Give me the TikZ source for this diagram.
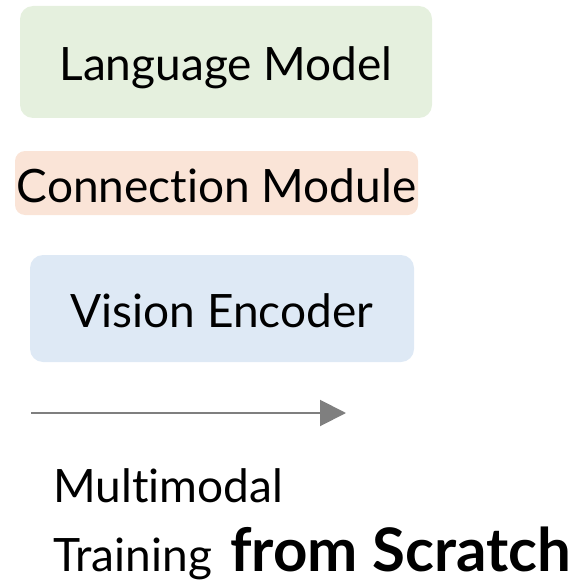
\documentclass[tikz,border=0pt]{standalone}
\usepackage{fontspec}
\setmainfont{Lato}[Ligatures={NoCommon,NoRare,NoContextual}]
\usetikzlibrary{arrows.meta}
\definecolor{lmgreen}{HTML}{E5F0DE}
\definecolor{cmpeach}{HTML}{FAE4D7}
\definecolor{veblue}{HTML}{DEE9F5}
\definecolor{arrgray}{HTML}{7F7F7F}
\tikzset{
  block/.style={rounded corners=13pt, inner sep=0pt, text height=38pt, text depth=0pt,
    font=\fontsize{46}{50}\selectfont},
  plain/.style={inner sep=0pt, anchor=base west, font=\fontsize{46}{50}\selectfont},
}
\begin{document}
\begin{tikzpicture}[x=1pt,y=-1pt]
\useasboundingbox (0,0) rectangle (577,583);
\node[block, fill=lmgreen, minimum width=412pt, minimum height=112pt] (lm) at (226,62) {Language Model};
\node[block, fill=cmpeach, rounded corners=10pt, minimum width=403pt, minimum height=64pt, text height=39pt] (cm) at (216.5,183) {Connection Module};
\node[block, fill=veblue, minimum width=384pt, minimum height=107pt, text height=37pt] (ve) at (222,308.5) {Vision Encoder};
\coordinate (a0) at (31,413);
\coordinate (a1) at (346,413);
\draw[arrgray, line width=2pt, -{Triangle[length=26pt,width=26pt]}] (a0) -- (a1);
\node[plain] (mm) at (53,502) {Multimodal};
\node[plain] (tr) at (53,571) {Training};
\node[plain, font=\fontsize{60}{62}\selectfont\bfseries] (fs) at (230,571) {from Scratch};
\end{tikzpicture}
\end{document}
